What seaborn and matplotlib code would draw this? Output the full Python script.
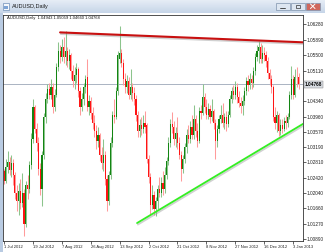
import numpy as np
import pandas as pd
import matplotlib
matplotlib.use("Agg")
import matplotlib.pyplot as plt
import matplotlib.patheffects as pe
from matplotlib.patches import Rectangle
from matplotlib.colors import LinearSegmentedColormap
import seaborn as sns

# ---------------- data ----------------
opens = [1.0259, 1.0234, 1.0270, 1.0282, 1.0262, 1.0280, 1.0250, 1.0205, 1.0185, 1.0210,
         1.0180, 1.0205, 1.0127, 1.0225, 1.0215, 1.0275, 1.0340, 1.0420, 1.0365, 1.0330,
         1.0265, 1.0215, 1.0300, 1.0395, 1.0440, 1.0465, 1.0450, 1.0470, 1.0420, 1.0450,
         1.0520, 1.0560, 1.0545, 1.0570, 1.0545, 1.0560, 1.0535, 1.0550, 1.0510, 1.0485,
         1.0500, 1.0515, 1.0460, 1.0420, 1.0440, 1.0470, 1.0495, 1.0420, 1.0435, 1.0405,
         1.0380, 1.0360, 1.0335, 1.0350, 1.0300, 1.0280, 1.0300, 1.0240, 1.0184, 1.0250,
         1.0330, 1.0400, 1.0395, 1.0460, 1.0540, 1.0555, 1.0530, 1.0490, 1.0470, 1.0485,
         1.0450, 1.0470, 1.0455, 1.0440, 1.0400, 1.0360, 1.0375, 1.0365, 1.0380, 1.0375,
         1.0290, 1.0244, 1.0175, 1.0200, 1.0165, 1.0185, 1.0215, 1.0205, 1.0230, 1.0215,
         1.0250, 1.0285, 1.0330, 1.0377, 1.0370, 1.0340, 1.0355, 1.0330, 1.0300, 1.0264,
         1.0290, 1.0320, 1.0350, 1.0340, 1.0370, 1.0350, 1.0390, 1.0360, 1.0335, 1.0410,
         1.0405, 1.0445, 1.0420, 1.0400, 1.0415, 1.0395, 1.0410, 1.0380, 1.0335, 1.0365,
         1.0390, 1.0400, 1.0380, 1.0395, 1.0378, 1.0400, 1.0440, 1.0460, 1.0450, 1.0470,
         1.0445, 1.0430, 1.0422, 1.0435, 1.0460, 1.0485, 1.0475, 1.0490, 1.0480, 1.0510,
         1.0545, 1.0560, 1.0570, 1.0540, 1.0555, 1.0550, 1.0535, 1.0505, 1.0490, 1.0470,
         1.0395, 1.0380, 1.0400, 1.0360, 1.0375, 1.0365, 1.0385, 1.0380, 1.0395, 1.0450,
         1.0490, 1.0450, 1.0495, 1.04943]
highs = [1.0265, 1.0290, 1.0310, 1.0295, 1.0300, 1.0290, 1.0258, 1.0225, 1.0230, 1.0240,
         1.0255, 1.0215, 1.0235, 1.0250, 1.0285, 1.0355, 1.0440, 1.0425, 1.0380, 1.0345,
         1.0280, 1.0310, 1.0405, 1.0455, 1.0478, 1.0480, 1.0490, 1.0480, 1.0465, 1.0530,
         1.0583, 1.0575, 1.0590, 1.0595, 1.0610, 1.0570, 1.0565, 1.0555, 1.0525, 1.0520,
         1.0530, 1.0520, 1.0470, 1.0455, 1.0480, 1.0500, 1.0540, 1.0450, 1.0445, 1.0420,
         1.0400, 1.0375, 1.0370, 1.0355, 1.0320, 1.0340, 1.0310, 1.0250, 1.0260, 1.0345,
         1.0410, 1.0440, 1.0470, 1.0560, 1.0623, 1.0565, 1.0540, 1.0505, 1.0500, 1.0495,
         1.0515, 1.0480, 1.0470, 1.0450, 1.0410, 1.0390, 1.0395, 1.0400, 1.0410, 1.0380,
         1.0300, 1.0255, 1.0225, 1.0210, 1.0195, 1.0225, 1.0245, 1.0245, 1.0260, 1.0270,
         1.0295, 1.0345, 1.0390, 1.0407, 1.0385, 1.0370, 1.0395, 1.0345, 1.0310, 1.0300,
         1.0330, 1.0365, 1.0375, 1.0385, 1.0400, 1.0425, 1.0400, 1.0380, 1.0420, 1.0425,
         1.0478, 1.0455, 1.0440, 1.0430, 1.0425, 1.0440, 1.0415, 1.0390, 1.0375, 1.0400,
         1.0425, 1.0430, 1.0405, 1.0410, 1.0410, 1.0450, 1.0470, 1.0475, 1.0485, 1.0480,
         1.0460, 1.0445, 1.0450, 1.0470, 1.0495, 1.0500, 1.0505, 1.0500, 1.0520, 1.0555,
         1.0575, 1.0585, 1.0580, 1.0575, 1.0570, 1.0560, 1.0545, 1.0515, 1.0500, 1.0475,
         1.0420, 1.0410, 1.0405, 1.0390, 1.0390, 1.0395, 1.0400, 1.0405, 1.0460, 1.0523,
         1.0500, 1.0515, 1.0520, 1.05059]
lows = [1.0228, 1.0230, 1.0255, 1.0250, 1.0245, 1.0225, 1.0190, 1.0160, 1.0150, 1.0165,
        1.0170, 1.0097, 1.0120, 1.0190, 1.0205, 1.0265, 1.0330, 1.0355, 1.0310, 1.0250,
        1.0200, 1.0172, 1.0290, 1.0380, 1.0430, 1.0440, 1.0440, 1.0405, 1.0410, 1.0445,
        1.0510, 1.0530, 1.0535, 1.0530, 1.0525, 1.0520, 1.0515, 1.0490, 1.0470, 1.0465,
        1.0480, 1.0445, 1.0400, 1.0410, 1.0425, 1.0455, 1.0410, 1.0400, 1.0390, 1.0365,
        1.0345, 1.0315, 1.0320, 1.0285, 1.0265, 1.0260, 1.0225, 1.0159, 1.0175, 1.0240,
        1.0320, 1.0380, 1.0390, 1.0450, 1.0530, 1.0520, 1.0475, 1.0455, 1.0455, 1.0440,
        1.0440, 1.0435, 1.0425, 1.0385, 1.0345, 1.0345, 1.0350, 1.0355, 1.0355, 1.0280,
        1.0230, 1.0152, 1.0165, 1.0150, 1.0146, 1.0165, 1.0195, 1.0195, 1.0200, 1.0205,
        1.0240, 1.0275, 1.0320, 1.0355, 1.0325, 1.0320, 1.0315, 1.0290, 1.0235, 1.0255,
        1.0280, 1.0305, 1.0330, 1.0330, 1.0340, 1.0340, 1.0345, 1.0320, 1.0330, 1.0390,
        1.0400, 1.0405, 1.0390, 1.0390, 1.0380, 1.0385, 1.0365, 1.0290, 1.0320, 1.0355,
        1.0380, 1.0370, 1.0365, 1.0360, 1.0370, 1.0395, 1.0430, 1.0440, 1.0440, 1.0430,
        1.0420, 1.0405, 1.0400, 1.0425, 1.0450, 1.0460, 1.0465, 1.0465, 1.0470, 1.0500,
        1.0535, 1.0530, 1.0530, 1.0530, 1.0535, 1.0520, 1.0490, 1.0475, 1.0455, 1.0385,
        1.0365, 1.0357, 1.0347, 1.0350, 1.0355, 1.0360, 1.0365, 1.0370, 1.0390, 1.0440,
        1.0440, 1.0445, 1.0470, 1.04660]
closes = [1.0234, 1.0270, 1.0282, 1.0262, 1.0280, 1.0250, 1.0205, 1.0185, 1.0210, 1.0180,
          1.0205, 1.0127, 1.0225, 1.0215, 1.0275, 1.0340, 1.0420, 1.0365, 1.0330, 1.0265,
          1.0215, 1.0300, 1.0395, 1.0440, 1.0465, 1.0450, 1.0470, 1.0420, 1.0450, 1.0520,
          1.0560, 1.0545, 1.0570, 1.0545, 1.0560, 1.0535, 1.0550, 1.0510, 1.0485, 1.0500,
          1.0515, 1.0460, 1.0420, 1.0440, 1.0470, 1.0490, 1.0420, 1.0435, 1.0405, 1.0380,
          1.0360, 1.0335, 1.0350, 1.0300, 1.0280, 1.0300, 1.0240, 1.0184, 1.0250, 1.0330,
          1.0400, 1.0395, 1.0460, 1.0550, 1.0555, 1.0530, 1.0490, 1.0470, 1.0485, 1.0450,
          1.0470, 1.0455, 1.0440, 1.0400, 1.0360, 1.0375, 1.0365, 1.0380, 1.0370, 1.0290,
          1.0244, 1.0175, 1.0200, 1.0165, 1.0185, 1.0215, 1.0205, 1.0230, 1.0215, 1.0250,
          1.0285, 1.0330, 1.0377, 1.0370, 1.0340, 1.0355, 1.0330, 1.0300, 1.0264, 1.0290,
          1.0320, 1.0350, 1.0340, 1.0370, 1.0350, 1.0390, 1.0360, 1.0335, 1.0410, 1.0405,
          1.0445, 1.0420, 1.0400, 1.0415, 1.0395, 1.0410, 1.0380, 1.0335, 1.0365, 1.0390,
          1.0400, 1.0380, 1.0395, 1.0378, 1.0400, 1.0440, 1.0460, 1.0450, 1.0470, 1.0445,
          1.0430, 1.0422, 1.0435, 1.0460, 1.0485, 1.0475, 1.0490, 1.0480, 1.0510, 1.0545,
          1.0560, 1.0570, 1.0540, 1.0555, 1.0550, 1.0535, 1.0505, 1.0490, 1.0470, 1.0395,
          1.0380, 1.0400, 1.0360, 1.0375, 1.0365, 1.0385, 1.0380, 1.0395, 1.0450, 1.0490,
          1.0450, 1.0495, 1.0494, 1.04768]

date_tick_bars = [0, 16, 32, 48, 64, 80, 96, 112, 128, 144, 160]
date_labels = ["1 Jul 2012", "19 Jul 2012", "7 Aug 2012", "26 Aug 2012", "13 Sep 2012",
               "2 Oct 2012", "21 Oct 2012", "8 Nov 2012", "27 Nov 2012", "16 Dec 2012",
               "3 Jan 2013"]
price_ticks = [1.06280, 1.05890, 1.05500, 1.05110, 1.04340, 1.03960, 1.03570,
               1.03190, 1.02810, 1.02420, 1.02040, 1.01660, 1.01270, 1.00890]
bid_price = 1.04768
resistance_x = [31.0, 166.0]
resistance_y = [1.0607, 1.0582]
support_x = [73.6, 166.0]
support_y = [1.0129, 1.0379]
symbol = "AUDUSD,Daily"

# ---------------- style ----------------
sns.set_theme(style="white")
plt.rcParams["font.family"] = ["Liberation Sans", "DejaVu Sans"]

W, H = 325, 252
fig = plt.figure(figsize=(W / 100, H / 100), dpi=100, facecolor="white")

def fx(px):
    return px / W

def fy(py):
    return 1 - py / H

# window chrome: left strip
fig.patches.append(Rectangle((0, 0), fx(3), fy(13), transform=fig.transFigure,
                             facecolor="#b9cbe2", edgecolor="none", zorder=0))

# title bar
ax_t = fig.add_axes([0, fy(13), 1, 13 / H])
grad = np.linspace(0, 1, 50).reshape(-1, 1)
cmap_t = LinearSegmentedColormap.from_list("tb", ["#e6edf6", "#c6d5e8"])
ax_t.imshow(grad, aspect="auto", cmap=cmap_t, extent=[0, W, 13, 0])
ax_t.set_xlim(0, W)
ax_t.set_ylim(13, 0)
ax_t.axis("off")
ax_t.add_patch(Rectangle((2.5, 3), 6, 6.5, facecolor="#f4f7fb", edgecolor="#6f8fb8", lw=0.5))
ax_t.add_patch(Rectangle((3.5, 5.5), 4, 3, facecolor="#7da4d6", edgecolor="none"))
ax_t.text(12, 6.5, symbol, fontsize=4.0, va="center", ha="left", color="#1a1a1a")
for x0, fc in [(276, "#dde6f1"), (291, "#dde6f1"), (306, "#d0675c")]:
    ax_t.add_patch(Rectangle((x0, 2.5), 13.5, 7.5, facecolor=fc, edgecolor="#7f93ad", lw=0.5))
ax_t.plot([280, 285], [7.5, 7.5], color="#333333", lw=0.6)
ax_t.add_patch(Rectangle((295.5, 4.5), 4.5, 3.5, facecolor="none", edgecolor="#333333", lw=0.5))
ax_t.plot([310.5, 315], [4, 8.5], color="white", lw=0.7)
ax_t.plot([310.5, 315], [8.5, 4], color="white", lw=0.7)

# ---------------- main chart ----------------
left_px, right_px, top_px, bot_px = 3, 302.5, 15, 241
ax = fig.add_axes([fx(left_px), fy(bot_px), (right_px - left_px) / W, (bot_px - top_px) / H])
ax.set_facecolor("white")

idx = np.arange(len(closes))
o = np.array(opens); h = np.array(highs); l = np.array(lows); c = np.array(closes)
bull = c >= o
wick_cols = np.where(bull, "#8cc48c", "#ff9b9b")
body_cols = np.where(bull, "#138513", "#ff1414")

ax.vlines(idx, l, h, colors=wick_cols, lw=0.75, zorder=2)
bottoms = np.minimum(o, c)
heights = np.maximum(np.abs(c - o), 0.00008)
ax.bar(idx, heights, bottom=bottoms, width=0.62, color=body_cols, linewidth=0, zorder=3)

# bid line
ax.axhline(bid_price, color="#aab3c2", lw=0.7, zorder=1)

# trend lines via seaborn
shadow = [pe.SimpleLineShadow(offset=(0.6, -1.1), shadow_color="#999999", alpha=0.45),
          pe.Normal()]
res_df = pd.DataFrame({"bar": resistance_x, "price": resistance_y})
sup_df = pd.DataFrame({"bar": support_x, "price": support_y})
sns.lineplot(data=res_df, x="bar", y="price", ax=ax, color="#c81010", lw=1.5,
             path_effects=shadow, zorder=4)
sns.lineplot(data=sup_df, x="bar", y="price", ax=ax, color="#33ee22", lw=1.3,
             path_effects=shadow, zorder=4)

ax.set_xlim(-0.6, 165.2)
ax.set_ylim(1.00840, 1.06506)
ax.set_xlabel("")
ax.set_ylabel("")

ax.yaxis.tick_right()
ax.set_yticks(price_ticks)
ax.set_yticklabels([f"{p:.5f}" for p in price_ticks])
ax.tick_params(axis="y", which="both", right=True, left=False, length=2, width=0.5,
               pad=0.6, labelsize=3.4, colors="#222222")
ax.set_xticks(date_tick_bars)
ax.set_xticklabels(date_labels, ha="left")
ax.tick_params(axis="x", which="both", bottom=True, length=2.2, width=0.5,
               pad=0.8, labelsize=3.0, colors="#222222")
for s in ax.spines.values():
    s.set_color("#333333")
    s.set_linewidth(0.6)

# current price label
ax.text(1.008, bid_price, f"{bid_price:.5f}", transform=ax.get_yaxis_transform(),
        fontsize=3.4, va="center", ha="left", color="black", fontweight="bold",
        bbox=dict(boxstyle="square,pad=0.15", facecolor="#d9dde3", edgecolor="#777777", lw=0.3),
        clip_on=False, zorder=6)

# header OHLC line
header = f"{symbol}  {opens[-1]:.5f} {highs[-1]:.5f} {lows[-1]:.5f} {closes[-1]:.5f}"
ax.text(fx(7), fy(18.5), header, transform=fig.transFigure, fontsize=3.0,
        va="center", ha="left", color="#111111")

fig.savefig("out.png", dpi=100, facecolor="white")
